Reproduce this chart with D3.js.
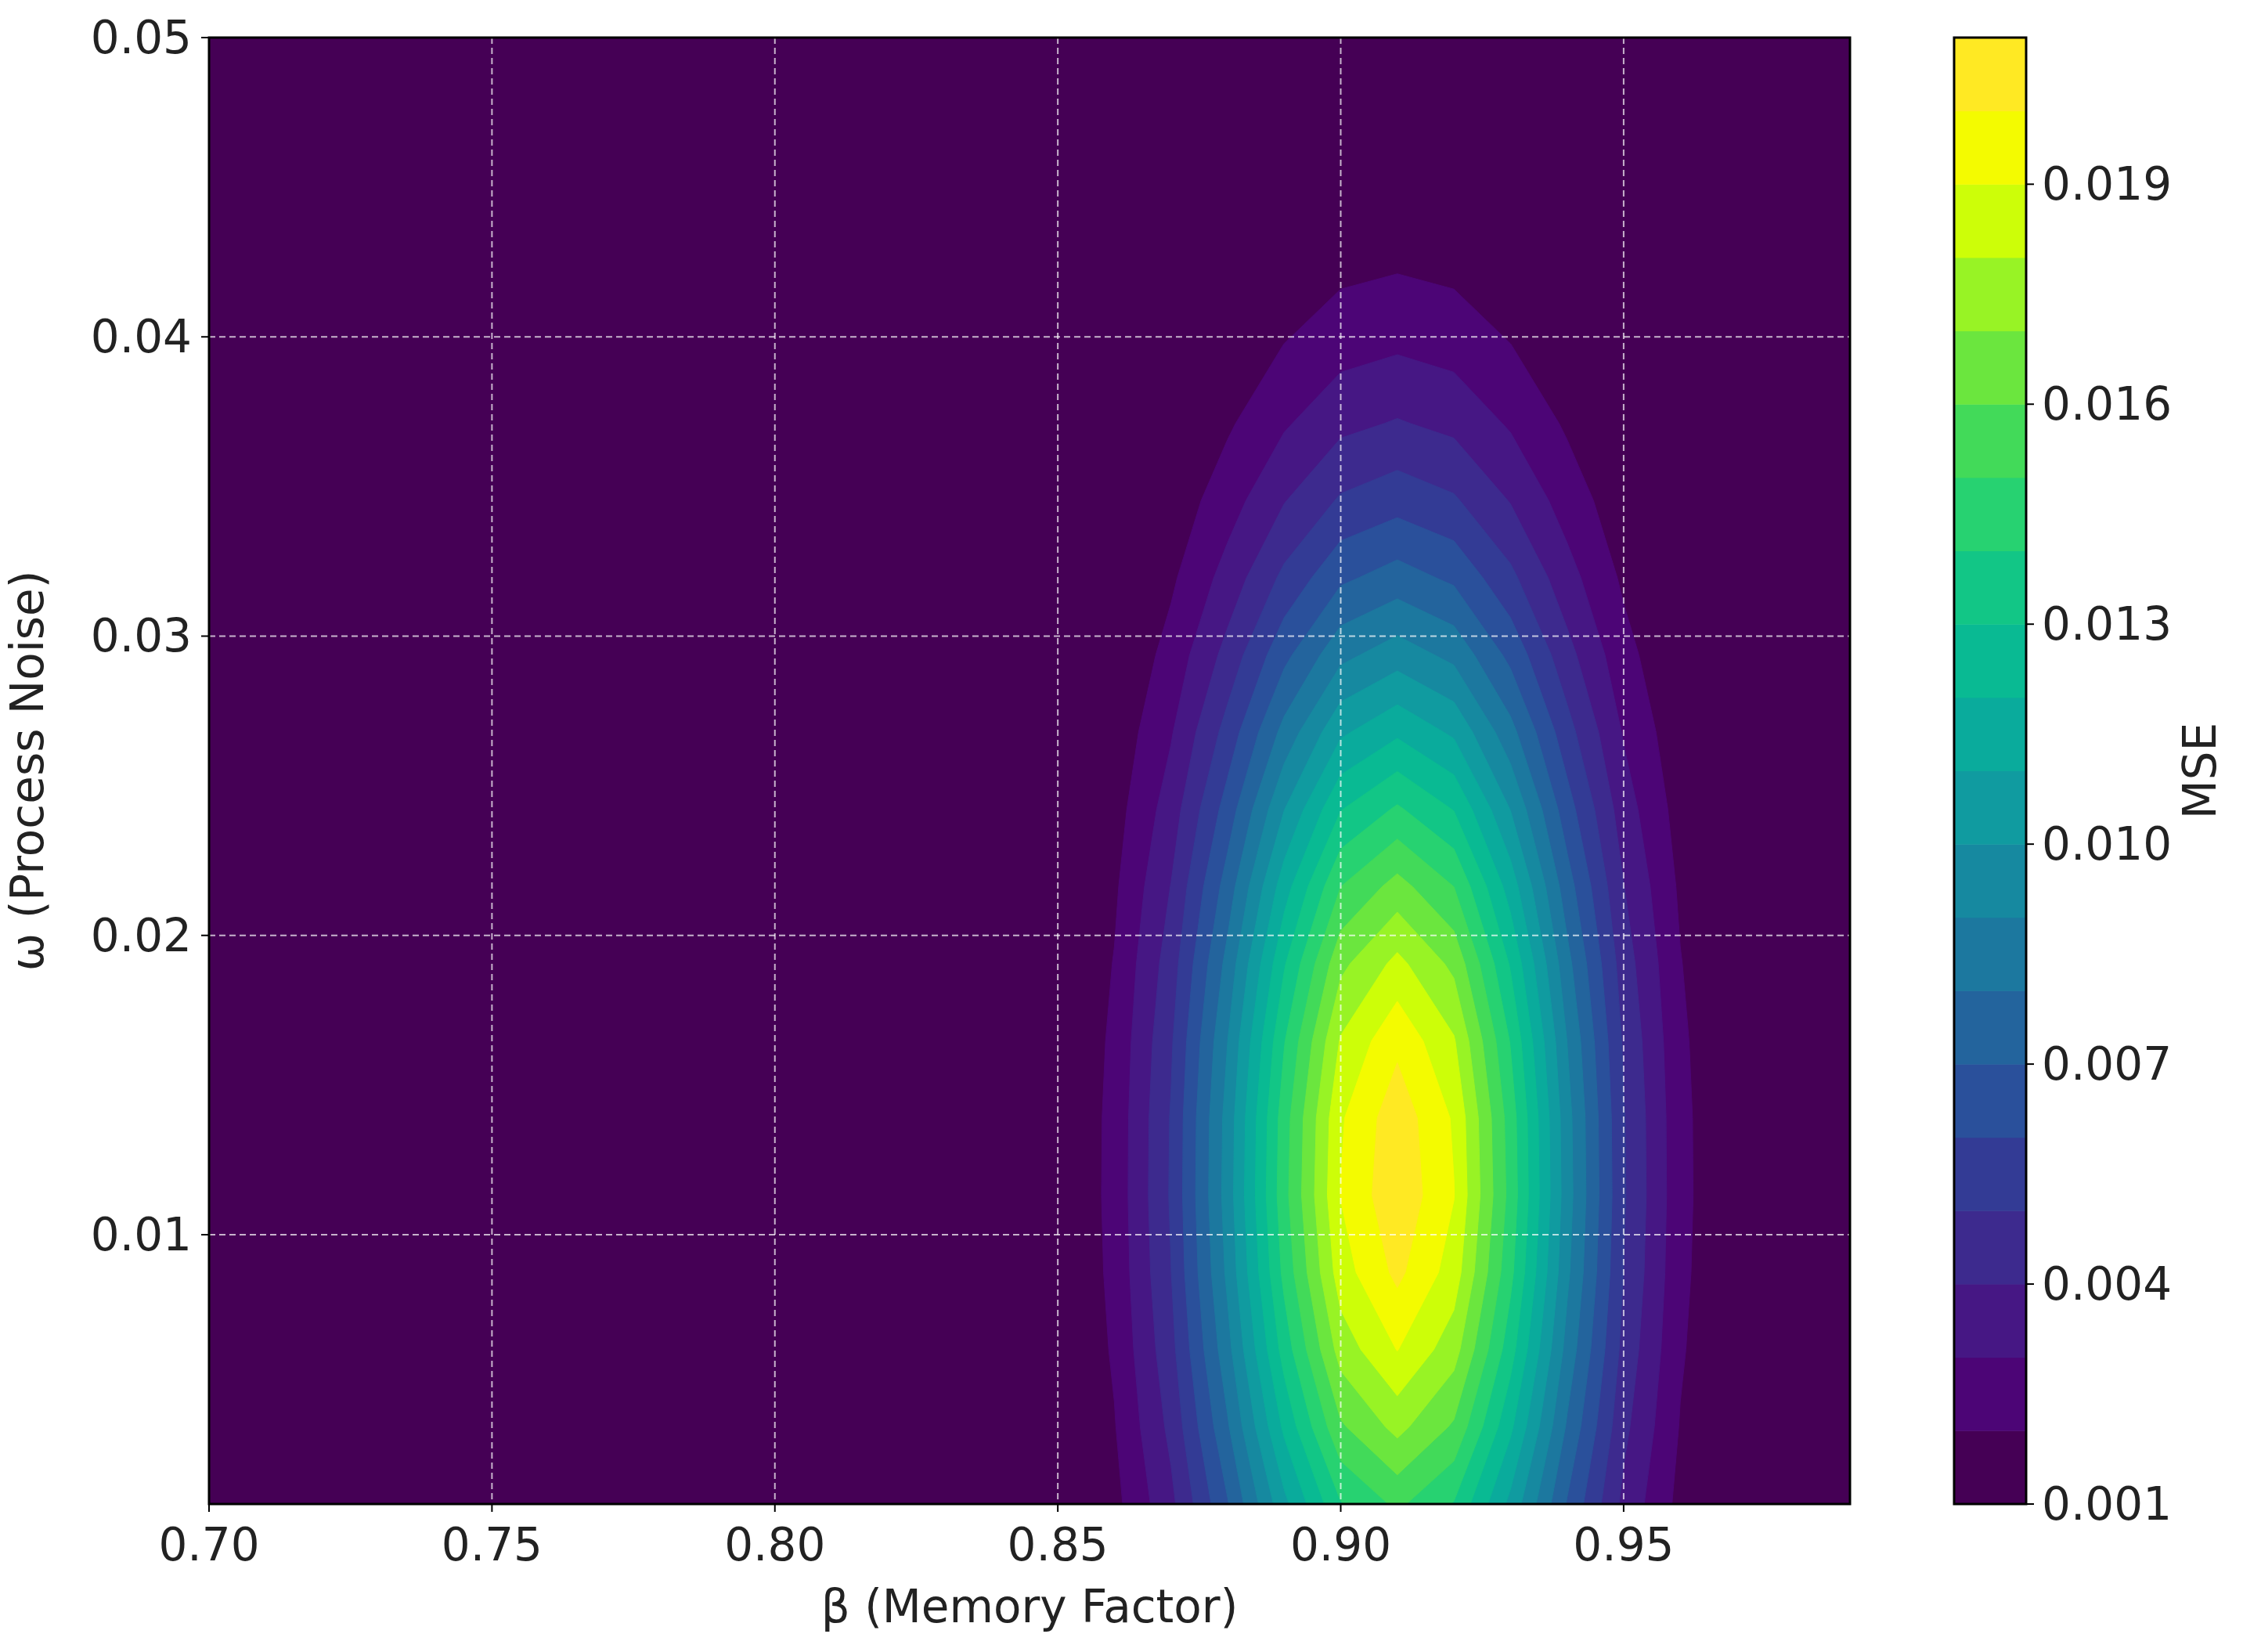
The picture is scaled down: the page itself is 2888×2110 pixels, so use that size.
<!DOCTYPE html>
<html><head><meta charset="utf-8">
<script src="https://cdn.jsdelivr.net/npm/d3@7/dist/d3.min.js"></script>
<style>body{margin:0;background:#fff}</style></head>
<body><svg id="c" width="2888" height="2110"></svg>
<script>
// Grid axes
const betas = d3.range(30).map(i => +(0.70 + 0.01*i).toFixed(2));           // 0.70 .. 0.99
const omegas = [0.001,0.00358,0.00616,0.00874,0.01132,0.0139,0.01647,0.01905,0.02163,0.02421,
                0.02679,0.02937,0.03195,0.03453,0.03711,0.03968,0.04226,0.04484,0.04742,0.05];
// MSE profile along beta (relative) and omega (relative)
const betaProfile = [0,0,0,0,0,0,0,0,0,0,0,0,0,0.0037,0.0137,0.043,0.112,0.246,0.455,0.705,0.916,1,
                     0.916,0.705,0.455,0.246,0.112,0.043,0.0137,0.0037];
const omegaProfile = [0.731,0.832,0.915,0.973,0.999,0.991,0.950,0.879,0.787,0.680,
                      0.568,0.458,0.357,0.269,0.196,0.138,0.0935,0.0614,0.0389,0.0238];
const peakMSE = 0.0208;
const levels = d3.range(21).map(i => +(0.001 + 0.001*i).toFixed(3)); // 0.001..0.021
const xTicks = [0.70,0.75,0.80,0.85,0.90,0.95];
const yTicks = [0.01,0.02,0.03,0.04,0.05];
const cbTicks = [0.001,0.004,0.007,0.010,0.013,0.016,0.019];

const svg = d3.select("#c");
const L=267,R=2363,T=48,B=1921;
const x = d3.scaleLinear().domain([0.70,0.99]).range([L,R]);
const y = d3.scaleLinear().domain([0.001,0.05]).range([B,T]);
const nb = levels.length-1;
const col = k => { const h = d3.hsl(d3.interpolateViridis(k/(nb-1))); h.s = Math.min(1,h.s*1.35); return h.formatHex(); };
const font = "DejaVu Sans, sans-serif";

const nx=betas.length, ny=omegas.length;
const values = [];
for (let j=0;j<ny;j++) for (let i=0;i<nx;i++) values.push(peakMSE*betaProfile[i]*omegaProfile[j]);

svg.append("defs").append("clipPath").attr("id","pc").append("rect")
  .attr("x",L).attr("y",T).attr("width",R-L).attr("height",B-T);
const g = svg.append("g").attr("clip-path","url(#pc)");
g.append("rect").attr("x",L).attr("y",T).attr("width",R-L).attr("height",B-T).attr("fill",col(0));

const proj = d3.geoTransform({point:function(px,py){
  const bi = px-0.5, oj = py-0.5;
  const ob = 0.70+0.01*bi;
  const j0 = Math.max(0,Math.min(ny-2,Math.floor(oj)));
  const ov = omegas[j0] + (oj-j0)*(omegas[j0+1]-omegas[j0]);
  this.stream.point(x(ob), y(ov));
}});
const path = d3.geoPath(proj);
const thr = levels.slice(1,nb);
const cs = d3.contours().size([nx,ny]).thresholds(thr).smooth(true)(values);
cs.forEach(c => {
  const k = Math.round((c.value-0.001)/0.001);
  g.append("path").attr("d",path(c)).attr("fill",col(k)).attr("stroke",col(k)).attr("stroke-width",1);
});

// grid
const grid = svg.append("g").attr("stroke","#ffffff").attr("stroke-opacity",0.7)
  .attr("stroke-width",2).attr("stroke-dasharray","8,5");
xTicks.slice(1).forEach(v=>grid.append("line").attr("x1",x(v)).attr("x2",x(v)).attr("y1",T).attr("y2",B));
yTicks.forEach(v=>grid.append("line").attr("y1",y(v)).attr("y2",y(v)).attr("x1",L).attr("x2",R));

svg.append("rect").attr("x",L).attr("y",T).attr("width",R-L).attr("height",B-T)
  .attr("fill","none").attr("stroke","#000").attr("stroke-width",3);

// axes labels
const fs=58;
xTicks.forEach(v=>{
  svg.append("line").attr("x1",x(v)).attr("x2",x(v)).attr("y1",B).attr("y2",B+10).attr("stroke","#000").attr("stroke-width",2);
  svg.append("text").attr("x",x(v)).attr("y",B+72).attr("text-anchor","middle")
   .attr("font-family",font).attr("font-size",fs).attr("fill","#222").text(v.toFixed(2));
});
yTicks.forEach(v=>{
  svg.append("line").attr("x1",L-10).attr("x2",L).attr("y1",y(v)).attr("y2",y(v)).attr("stroke","#000").attr("stroke-width",2);
  svg.append("text").attr("x",L-22).attr("y",y(v)+20).attr("text-anchor","end")
   .attr("font-family",font).attr("font-size",fs).attr("fill","#222").text(v.toFixed(2));
});
svg.append("text").attr("x",(L+R)/2).attr("y",2072).attr("text-anchor","middle")
  .attr("font-family",font).attr("font-size",fs).attr("fill","#222").text("β (Memory Factor)");
svg.append("text").attr("transform",`translate(55,${(T+B)/2}) rotate(-90)`).attr("text-anchor","middle")
  .attr("font-family",font).attr("font-size",fs).attr("fill","#222").text("ω (Process Noise)");

// colorbar
const CL=2496,CR=2588;
const cy = d3.scaleLinear().domain([0.001,0.021]).range([B,T]);
for (let k=0;k<nb;k++){
  svg.append("rect").attr("x",CL).attr("width",CR-CL).attr("y",cy(levels[k+1])).attr("height",cy(levels[k])-cy(levels[k+1])+0.5).attr("fill",col(k));
}
svg.append("rect").attr("x",CL).attr("y",T).attr("width",CR-CL).attr("height",B-T).attr("fill","none").attr("stroke","#000").attr("stroke-width",3);
cbTicks.forEach(v=>{
  svg.append("line").attr("x1",CR).attr("x2",CR+10).attr("y1",cy(v)).attr("y2",cy(v)).attr("stroke","#000").attr("stroke-width",2);
  svg.append("text").attr("x",CR+20).attr("y",cy(v)+20).attr("font-family",font).attr("font-size",fs).attr("fill","#222").text(v.toFixed(3));
});
svg.append("text").attr("transform",`translate(2830,${(T+B)/2}) rotate(-90)`).attr("text-anchor","middle")
  .attr("font-family",font).attr("font-size",fs).attr("fill","#222").text("MSE");
</script></body></html>
